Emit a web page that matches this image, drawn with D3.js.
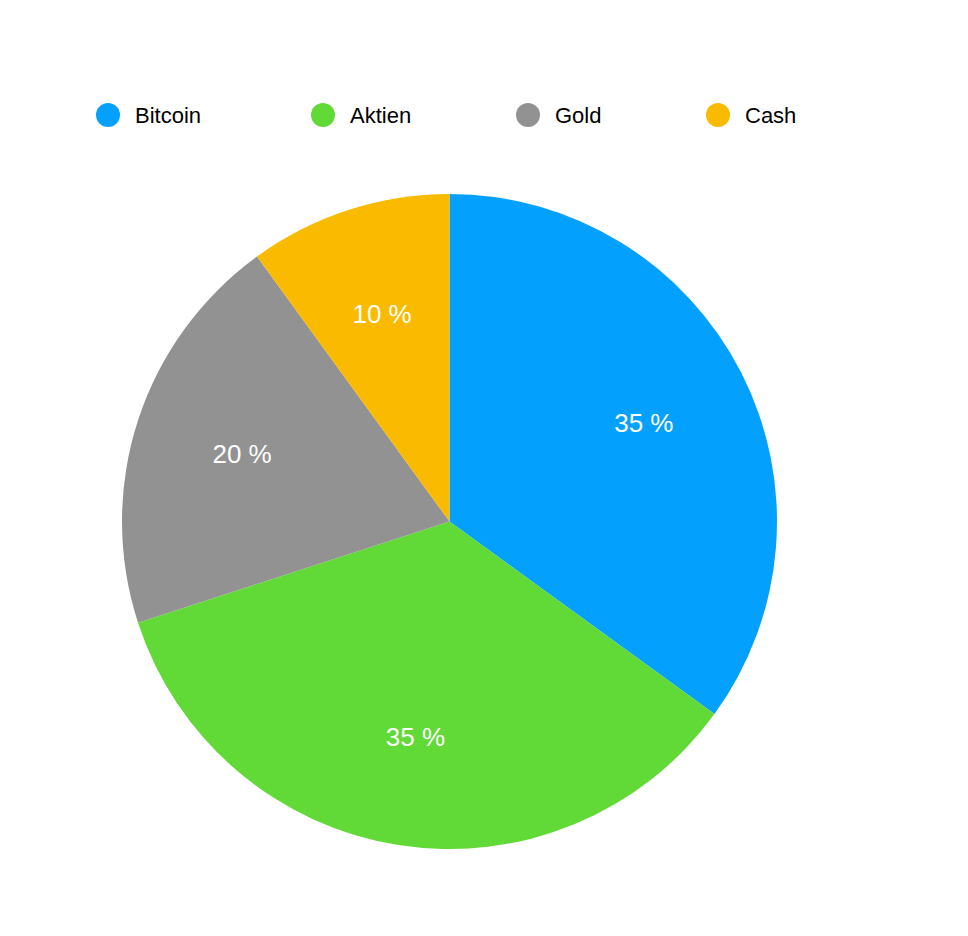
<!DOCTYPE html>
<html>
<head>
<meta charset="utf-8">
<script src="https://cdn.jsdelivr.net/npm/d3@7"></script>
<style>
  body { margin: 0; background: #fff; }
  text { font-family: "Liberation Sans", Arial, sans-serif; }
</style>
</head>
<body>
<svg id="chart" width="968" height="936"></svg>
<script>
var categories = ['Bitcoin', 'Aktien', 'Gold', 'Cash']
  , values = [35, 35, 20, 10]
  , colors = ['#03a1fd', '#61d936', '#929292', '#f9ba00']
  , legendX = [108, 323, 528, 718]

var svg = d3.select('#chart')
  , cx = 449.5
  , cy = 521.5
  , r = 327.5

var data = categories.map(function(c, i) { return { name: c, value: values[i], color: colors[i] } })

var pie = d3.pie().sort(null).value(function(d) { return d.value })
  , arc = d3.arc().innerRadius(0).outerRadius(r)
  , labelArc = d3.arc().innerRadius(r * 0.666).outerRadius(r * 0.666)

var g = svg.append('g').attr('transform', 'translate(' + cx + ',' + cy + ')')

var slices = g.selectAll('g.slice')
    .data(pie(data))
    .enter()
    .append('g')
      .classed('slice', true)

slices.append('path')
    .attr('d', arc)
    .attr('fill', function(d) { return d.data.color })

slices.append('text')
    .attr('transform', function(d) { return 'translate(' + labelArc.centroid(d) + ')' })
    .attr('text-anchor', 'middle')
    .attr('dy', '0.35em')
    .attr('fill', '#fff')
    .attr('font-size', 26)
    .text(function(d) { return d.data.value + ' %' })

var legend = svg.selectAll('g.legend')
    .data(data)
    .enter()
    .append('g')
      .classed('legend', true)
      .attr('transform', function(d, i) { return 'translate(' + legendX[i] + ',115)' })

legend.append('circle')
    .attr('r', 12)
    .attr('fill', function(d) { return d.color })

legend.append('text')
    .attr('x', 27)
    .attr('dy', '0.35em')
    .attr('font-size', 22)
    .attr('fill', '#000')
    .text(function(d) { return d.name })
</script>
</body>
</html>
